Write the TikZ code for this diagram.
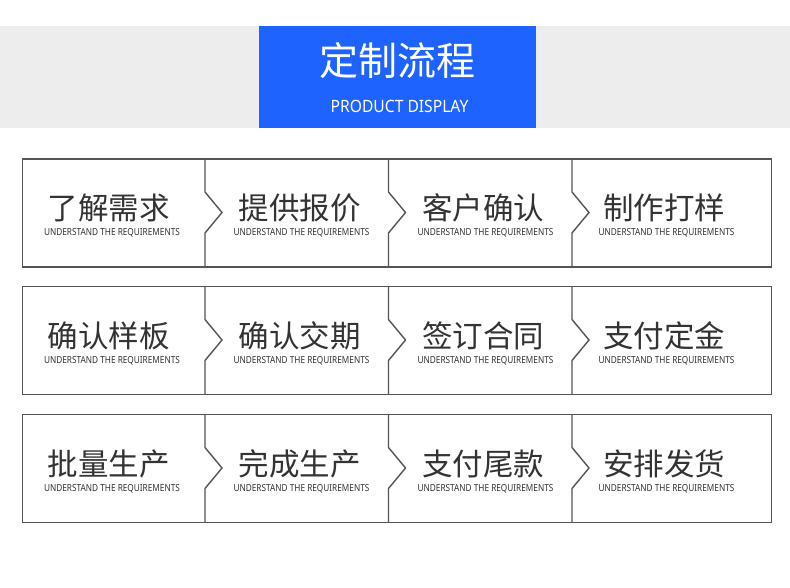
\documentclass[tikz,border=0pt]{standalone}
\usepackage{fontspec}
\newfontfamily\cjk{Noto Sans CJK SC}
\newfontfamily\narrow[FakeStretch=0.85]{Noto Sans}
\newfontfamily\narrowb[FakeStretch=0.92]{Noto Sans}
\definecolor{hdrblue}{HTML}{1F63FF}
\definecolor{band}{HTML}{EDEDED}
\definecolor{frame}{HTML}{555555}
\definecolor{ink}{HTML}{333333}
\tikzset{
  rowbox/.style={draw=frame, line width=1.4pt, minimum width=749pt, minimum height=108pt, inner sep=0pt, anchor=north west},
  divline/.style={draw=frame, line width=1.4pt, line join=miter},
  cntext/.style={text=ink, font=\cjk\fontsize{30.5}{32}\selectfont, inner sep=0pt},
  entext/.style={text=ink, font=\narrow\fontsize{9.7}{10}\selectfont, inner sep=0pt}
}
\begin{document}
\begin{tikzpicture}[x=1pt,y=-1pt]
\useasboundingbox (0,0) rectangle (790,588);
\fill[white] (0,0) rectangle (790,588);
\fill[band] (0,26) rectangle (790,128);
\node[fill=hdrblue, minimum width=277pt, minimum height=102pt, inner sep=0pt, anchor=north west] (hdr) at (259,26) {};
\node[text=white, font=\cjk\fontsize{39}{42}\selectfont, inner sep=0pt] (title) at (397.5,61) {定制流程};
\node[text=white, font=\narrowb\fontsize{17}{19}\selectfont, inner sep=0pt] (subtitle) at (399.5,106) {PRODUCT DISPLAY};
\foreach \r/\top in {1/158.5, 2/286, 3/414}{
  \node[rowbox] (row\r) at (22,\top) {};
  \foreach \dx in {205, 388.5, 572}{
    \draw[divline] (\dx,\top) -- (\dx,\top+33.5) -- (\dx+17,\top+54) -- (\dx,\top+74.5) -- (\dx,\top+108);
  }
}
\foreach \r/\top/\a/\b/\c/\d in {
  1/158.5/了解需求/提供报价/客户确认/制作打样,
  2/286/确认样板/确认交期/签订合同/支付定金,
  3/414/批量生产/完成生产/支付尾款/安排发货}{
  \node[cntext] (t\r a) at (108.5,\top+49.5) {\a};
  \node[cntext] (t\r b) at (299.5,\top+49.5) {\b};
  \node[cntext] (t\r c) at (483,\top+49.5) {\c};
  \node[cntext] (t\r d) at (664,\top+49.5) {\d};
  \node[entext] (e\r a) at (112,\top+74.5) {UNDERSTAND THE REQUIREMENTS};
  \node[entext] (e\r b) at (301.5,\top+74.5) {UNDERSTAND THE REQUIREMENTS};
  \node[entext] (e\r c) at (485.5,\top+74.5) {UNDERSTAND THE REQUIREMENTS};
  \node[entext] (e\r d) at (666.5,\top+74.5) {UNDERSTAND THE REQUIREMENTS};
}
\end{tikzpicture}
\end{document}
